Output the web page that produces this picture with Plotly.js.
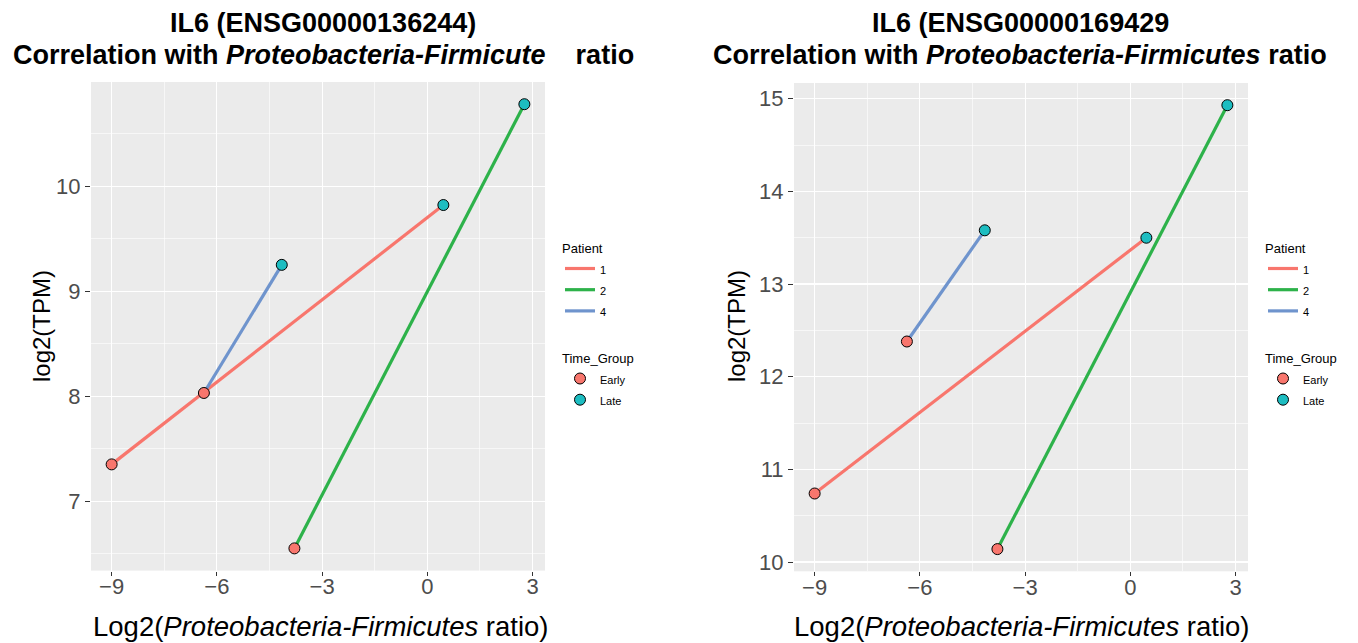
<!DOCTYPE html>
<html>
<head>
<meta charset="utf-8">
<script src="https://cdn.plot.ly/plotly-3.0.1.min.js"></script>
<style>
html,body{margin:0;padding:0;background:#fff;}
#chart{width:1358px;height:643px;}
</style>
</head>
<body>
<div id="chart"></div>
<script>
// ---- data ----
const patients = ['1', '2', '4'];
const timeGroups = ['Early', 'Late'];
// Log2(Proteobacteria-Firmicutes ratio), per patient (1, 2, 4)
const earlyX = [-9.00, -3.79, -6.37];
const lateX  = [0.456, 2.765, -4.15];
// log2(TPM) for IL6 (ENSG00000136244)
const geneAEarlyY = [7.35, 6.55, 8.03];
const geneALateY  = [9.82, 10.78, 9.25];
// log2(TPM) for IL6 (ENSG00000169429
const geneBEarlyY = [10.74, 10.14, 12.38];
const geneBLateY  = [13.50, 14.93, 13.58];
const xTicks = [-9, -6, -3, 0, 3];
const titleLine1 = ['IL6 (ENSG00000136244)', 'IL6 (ENSG00000169429'];
const titleLine2 = [
  'Correlation with <i>Proteobacteria-Firmicute</i>\u00a0\u00a0\u00a0\u00a0ratio',
  'Correlation with <i>Proteobacteria-Firmicutes</i> ratio'
];
const xTitle = 'Log2(<i>Proteobacteria-Firmicutes</i> ratio)';
const yTitle = 'log2(TPM)';

// ---- styles ----
const patientColors = ['#F8766D', '#2DB24A', '#6F94CD'];
const groupColors = ['#F8766D', '#1DBDC1'];
const W = 1358, H = 643;
const FONT = 'Liberation Sans, Arial, Helvetica, sans-serif';

function expand(vals) {
  const mn = Math.min(...vals), mx = Math.max(...vals);
  const s = mx - mn;
  return [mn - 0.05 * s, mx + 0.05 * s];
}
function small(t) { return '<span style="font-size:11px">' + t + '</span>'; }

const panels = [
  {eY: geneAEarlyY, lY: geneALateY, xa: 'x', ya: 'y', lg1: 'legend', lg2: 'legend2'},
  {eY: geneBEarlyY, lY: geneBLateY, xa: 'x2', ya: 'y2', lg1: 'legend3', lg2: 'legend4'}
];

const traces = [];
panels.forEach((p) => {
  patients.forEach((pt, i) => {
    traces.push({
      type: 'scatter', mode: 'lines',
      x: [earlyX[i], lateX[i]], y: [p.eY[i], p.lY[i]],
      xaxis: p.xa, yaxis: p.ya,
      name: small(pt), legend: p.lg1,
      line: {color: patientColors[i], width: 3.2},
      hoverinfo: 'skip'
    });
  });
  traces.push({
    type: 'scatter', mode: 'markers',
    x: earlyX, y: p.eY, xaxis: p.xa, yaxis: p.ya,
    name: small(timeGroups[0]), legend: p.lg2,
    marker: {size: 11, color: groupColors[0], line: {color: '#000', width: 1}}
  });
  traces.push({
    type: 'scatter', mode: 'markers',
    x: lateX, y: p.lY, xaxis: p.xa, yaxis: p.ya,
    name: small(timeGroups[1]), legend: p.lg2,
    marker: {size: 11, color: groupColors[1], line: {color: '#000', width: 1}}
  });
});

function xAxis(domain, anchor) {
  return {
    domain: domain, anchor: anchor,
    range: expand(earlyX.concat(lateX)),
    tickvals: xTicks, ticks: 'outside', ticklen: 4, tickcolor: '#333', tickwidth: 1,
    ticklabelstandoff: -8,
    tickfont: {size: 22, color: '#4D4D4D', family: FONT},
    showgrid: true, gridcolor: '#FFFFFF', gridwidth: 1.2,
    minor: {dtick: 1.5, tick0: 0, showgrid: true, gridcolor: '#FFFFFF', gridwidth: 0.6, ticks: ''},
    zeroline: false, showline: false, fixedrange: true
  };
}
function yAxis(domain, anchor, vals) {
  return {
    domain: domain, anchor: anchor,
    range: expand(vals),
    dtick: 1, tick0: 0, ticks: 'outside', ticklen: 5, tickcolor: '#333', tickwidth: 1,
    tickfont: {size: 22, color: '#4D4D4D', family: FONT},
    showgrid: true, gridcolor: '#FFFFFF', gridwidth: 1.2,
    minor: {dtick: 0.5, tick0: 0, showgrid: true, gridcolor: '#FFFFFF', gridwidth: 0.6, ticks: ''},
    zeroline: false, showline: false, fixedrange: true
  };
}

function legend(xPx, yPx, title) {
  return {
    x: xPx / W, y: 1 - yPx / H, xanchor: 'left', yanchor: 'top',
    bgcolor: 'rgba(0,0,0,0)', borderwidth: 0,
    title: {text: title, font: {size: 13, color: '#000', family: FONT}},
    font: {size: 14, color: '#000', family: FONT},
    itemwidth: 30, tracegroupgap: 0
  };
}

const ann = [];
const centers = [323, 1020];
const plotCenters = [320, 1021];
const yTitleX = [41, 736];
[0, 1].forEach((k) => {
  ann.push({text: '<b>' + titleLine1[k] + '</b>', x: centers[k] / W, y: 1 - 23 / H,
    xref: 'paper', yref: 'paper', xanchor: 'center', yanchor: 'middle', showarrow: false,
    font: {size: 27, color: '#000', family: FONT}});
  ann.push({text: '<b>' + titleLine2[k] + '</b>', x: centers[k] / W, y: 1 - 55 / H,
    xref: 'paper', yref: 'paper', xanchor: 'center', yanchor: 'middle', showarrow: false,
    font: {size: 27, color: '#000', family: FONT}});
  ann.push({text: xTitle, x: plotCenters[k] / W, y: 1 - 626 / H,
    xref: 'paper', yref: 'paper', xanchor: 'center', yanchor: 'middle', showarrow: false,
    font: {size: 27.5, color: '#000', family: FONT}});
  ann.push({text: yTitle, x: yTitleX[k] / W, y: 1 - 326 / H, textangle: -90,
    xref: 'paper', yref: 'paper', xanchor: 'center', yanchor: 'middle', showarrow: false,
    font: {size: 24, color: '#000', family: FONT}});
});

const layout = {
  width: W, height: H,
  margin: {l: 0, r: 0, t: 0, b: 0},
  paper_bgcolor: '#FFFFFF', plot_bgcolor: '#EBEBEB',
  font: {family: FONT},
  showlegend: true,
  xaxis: xAxis([91 / W, 545 / W], 'y'),
  yaxis: yAxis([1 - 570.6 / H, 1 - 82 / H], 'x', geneAEarlyY.concat(geneALateY)),
  xaxis2: xAxis([794 / W, 1248 / W], 'y2'),
  yaxis2: yAxis([1 - 571.3 / H, 1 - 83 / H], 'x2', geneBEarlyY.concat(geneBLateY)),
  legend: legend(560, 236, 'Patient'),
  legend2: legend(560, 346, 'Time_Group'),
  legend3: legend(1263, 236, 'Patient'),
  legend4: legend(1263, 346, 'Time_Group'),
  annotations: ann
};

Plotly.newPlot('chart', traces, layout, {displayModeBar: false, staticPlot: true});
</script>
</body>
</html>
